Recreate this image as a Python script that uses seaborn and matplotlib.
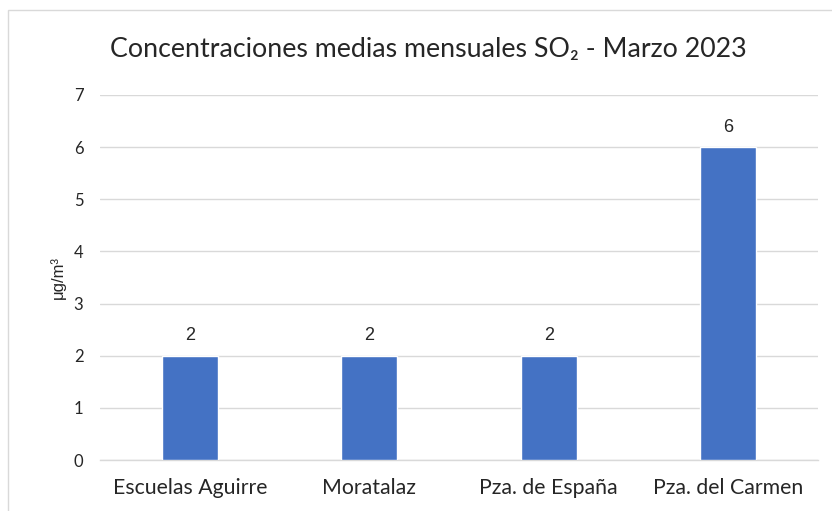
import matplotlib
matplotlib.use("Agg")
import matplotlib.pyplot as plt
import seaborn as sns
import pandas as pd
from matplotlib.patches import Rectangle

# Data
estaciones = ["Escuelas Aguirre", "Moratalaz", "Pza. de España", "Pza. del Carmen"]
valores = [2, 2, 2, 6]
y_ticks = [0, 1, 2, 3, 4, 5, 6, 7]

titulo = "Concentraciones medias mensuales SO\u2082 - Marzo 2023"
y_label = "\u03bcg/m\u00b3"

BAR_COLOR = "#4472C4"
GRID_COLOR = "#D9D9D9"
LATO = ["Lato", "DejaVu Sans"]


def generate_plot():
    df = pd.DataFrame({"estacion": estaciones, "valor": valores})

    sns.set_style("white")
    plt.rcParams["font.family"] = ["Liberation Sans", "DejaVu Sans"]

    fig = plt.figure(figsize=(8.32, 5.11), dpi=100)
    ax = fig.add_axes([0.1202, 0.0998, 0.863, 0.7143])

    sns.barplot(data=df, x="estacion", y="valor", color=BAR_COLOR,
                width=0.31, saturation=1, ax=ax, zorder=3)

    ax.set_ylim(0, 7)
    ax.set_yticks(y_ticks)
    ax.set_xlim(-0.5, len(estaciones) - 0.5)
    ax.yaxis.grid(True, color=GRID_COLOR, linewidth=1, zorder=0)
    ax.set_axisbelow(True)
    for side in ["top", "right", "left"]:
        ax.spines[side].set_visible(False)
    ax.spines["bottom"].set_color(GRID_COLOR)
    ax.spines["bottom"].set_linewidth(1)
    ax.tick_params(axis="both", length=0)
    ax.tick_params(axis="y", pad=12)
    ax.tick_params(axis="x", pad=13)
    for lbl in ax.get_yticklabels():
        lbl.set_family(LATO)
        lbl.set_fontsize(12)
    for lbl in ax.get_xticklabels():
        lbl.set_family(LATO)
        lbl.set_fontsize(15.3)

    ax.set_xlabel("")
    ax.set_ylabel(y_label, fontsize=12, labelpad=6)

    for i, v in enumerate(valores):
        ax.annotate(str(v), (i, v), xytext=(0, 11), textcoords="offset points",
                    ha="center", va="baseline", fontsize=13)

    fig.text(428.5 / 832, 0.903, titulo, ha="center", va="center",
             fontsize=19.3, family=LATO)

    # outer chart border
    fig.patches.append(Rectangle((8 / 832, -0.2), 1.2, 0.2 + 1 - 10 / 511,
                                 transform=fig.transFigure, fill=False,
                                 edgecolor=GRID_COLOR, linewidth=1))

    fig.savefig("out.png", dpi=100)


if __name__ == "__main__":
    generate_plot()
